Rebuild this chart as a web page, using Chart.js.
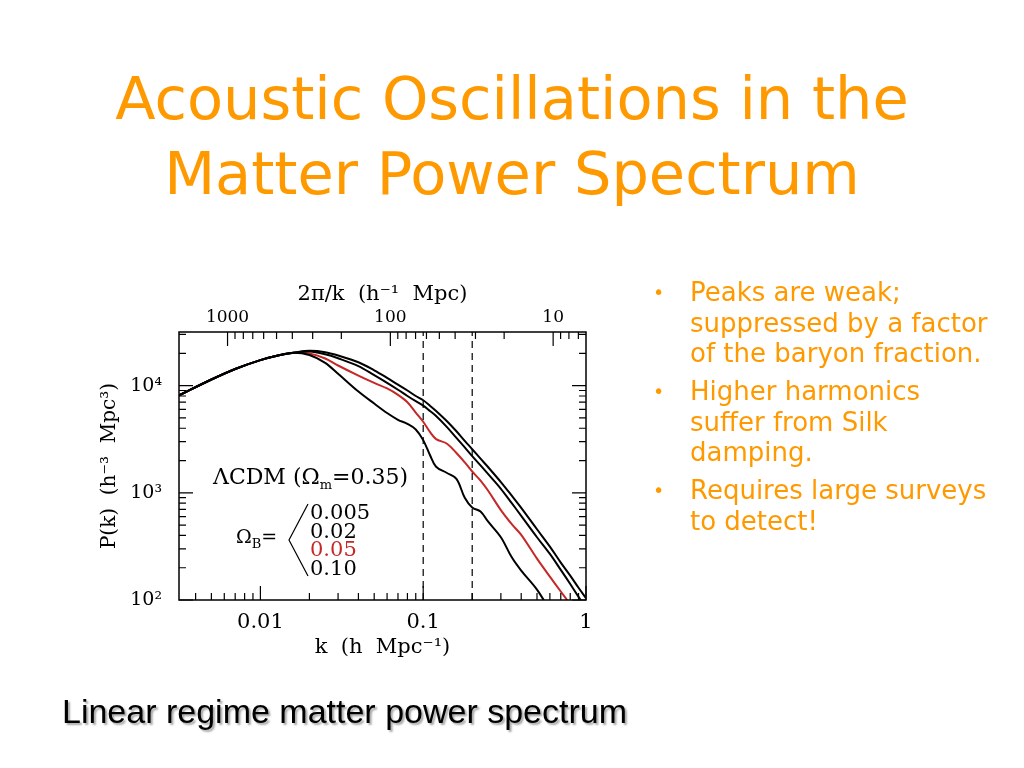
<!DOCTYPE html>
<html>
<head>
<meta charset="utf-8">
<script src="https://cdn.jsdelivr.net/npm/chart.js@4/dist/chart.umd.min.js"></script>
<style>
html, body { margin:0; padding:0; background:#fff; }
body { width:1024px; height:768px; position:relative; overflow:hidden; }
#wrap { position:absolute; left:0; top:0; width:1024px; height:768px; }
.title { position:absolute; left:0; top:61px; width:1024px; text-align:center; color:#ff9900;
         font-family:"DejaVu Sans"; font-size:59px; line-height:75px; white-space:nowrap; }
.bullets { position:absolute; left:690px; top:277px; color:#ff9900; font-family:"DejaVu Sans";
           font-size:26px; line-height:30.5px; white-space:nowrap; }
.bullets p { margin:0 0 7.5px 0; position:relative; }
.bullets p span.dot { position:absolute; left:-37px; top:0; font-size:19px; }
.caption { position:absolute; left:62px; top:692px; font-family:"Liberation Sans"; font-size:34px;
           line-height:38px; color:#000; text-shadow:2px 2px 2px rgba(0,0,0,0.35); white-space:nowrap; }
.lbl { position:absolute; font-family:"DejaVu Serif"; color:#000; white-space:nowrap; line-height:1; }
.lbl sub { font-size:13px; vertical-align:-5px; line-height:0; }
#vals div { height:18.7px; }
</style>
</head>
<body>
<div id="wrap"><canvas id="pk"></canvas></div>

<div class="title">Acoustic Oscillations in the<br>Matter Power Spectrum</div>

<div class="bullets">
  <p><span class="dot">•</span>Peaks are weak;<br>suppressed by a factor<br>of the baryon fraction.</p>
  <p><span class="dot">•</span>Higher harmonics<br>suffer from Silk<br>damping.</p>
  <p><span class="dot">•</span>Requires large surveys<br>to detect!</p>
</div>

<div class="caption">Linear regime matter power spectrum</div>

<div class="lbl" style="left:213px;top:466px;font-size:22px">ΛCDM (Ω<sub>m</sub>=0.35)</div>
<div class="lbl" style="left:236px;top:527px;font-size:19px">Ω<sub>B</sub>=</div>
<svg style="position:absolute;left:0;top:0" width="1024" height="768">
  <polyline points="308,504 289,540 308,576" fill="none" stroke="#000" stroke-width="1.2"/>
</svg>
<div class="lbl" id="vals" style="left:310px;top:502px;font-size:21px"></div>

<script>
// ===============================
// Data
// ===============================
const kValues = [0.00316, 0.005, 0.007, 0.01, 0.013, 0.016, 0.02, 0.025, 0.03, 0.04, 0.05,
                 0.06, 0.07, 0.08, 0.09, 0.1, 0.11, 0.12, 0.14, 0.16, 0.18, 0.2, 0.225, 0.25,
                 0.3, 0.35, 0.4, 0.5, 0.6, 0.7, 0.8, 0.9, 1.0];

// P(k) for Omega_B = 0.005, 0.02, 0.05, 0.10
const pB005 = [8100, 11400, 14300, 17300, 19200, 20300, 21100, 20500, 19100, 16500, 13900,
               11800, 10200, 9000, 8000, 7300, 6500, 5800, 4650, 3750, 3050, 2550, 2080, 1740,
               1260, 940, 724, 457, 315, 223, 169, 130, 104];
const pB02  = [8100, 11400, 14300, 17300, 19200, 20300, 20800, 19600, 18000, 15200, 12500,
               10600, 9150, 8000, 7150, 6500, 5800, 5200, 4100, 3250, 2650, 2200, 1800, 1500,
               1090, 800, 610, 385, 269, 191, 141, 107, 85];
const pB05  = [8100, 11400, 14300, 17300, 19200, 20300, 19900, 17900, 15400, 12400, 10600,
               9400, 8200, 7000, 5600, 4600, 3700, 3170, 2870, 2350, 1920, 1580, 1300, 1050,
               690, 510, 405, 243, 165, 120, 91, null, null];
const pB10  = [8100, 11400, 14300, 17300, 19200, 20300, 19300, 16300, 12900, 8800, 6800,
               5550, 4800, 4400, 3900, 3100, 2250, 1750, 1530, 1350, 900, 730, 670, 540,
               385, 250, 188, 125, 80, null, null, null, null];

const baryonLabels = ["0.005", "0.02", "0.05", "0.10"];
const dashedK = [0.1, 0.2];

const kMin = 0.0031623, kMax = 1;
const pMin = 100, pMax = 31623;
const kTickLabels = {0.01: "0.01", 0.1: "0.1", 1: "1"};
const scaleTickLabels = {10: "10", 100: "100", 1000: "1000"};
const pTickLabels = {100: "10²", 1000: "10³", 10000: "10⁴"};

// legend values next to the bracket
document.getElementById("vals").innerHTML = baryonLabels
    .map((t, i) => '<div style="color:' + (i === 2 ? '#c62828' : '#000') + '">' + t + '</div>')
    .join("");

// ticks 1..9 x 10^n inside a range
function decadeTicks(lo, hi) {
    const out = [];
    for (let e = Math.floor(Math.log10(lo)) - 1; e <= Math.ceil(Math.log10(hi)); e++) {
        for (let m = 1; m <= 9; m++) {
            const v = +(m * Math.pow(10, e)).toPrecision(6);
            if (v >= lo * 0.9999 && v <= hi * 1.0001) out.push({value: v, major: m === 1});
        }
    }
    return out;
}

const pts = arr => kValues.map((k, i) => ({x: k, y: arr[i]}));

const serif = "DejaVu Serif";

// inward tick marks + frame
const frameTicks = {
    id: "frameTicks",
    afterDatasetsDraw(chart) {
        const {ctx, chartArea: a, scales} = chart;
        ctx.save();
        ctx.strokeStyle = "#000";
        ctx.lineWidth = 1.2;
        ctx.beginPath();
        scales.x.ticks.forEach(t => {
            const p = scales.x.getPixelForValue(t.value), l = t.major ? 14 : 7;
            ctx.moveTo(p, a.bottom); ctx.lineTo(p, a.bottom - l);
        });
        scales.x2.ticks.forEach(t => {
            const p = scales.x2.getPixelForValue(t.value), l = t.major ? 14 : 7;
            ctx.moveTo(p, a.top); ctx.lineTo(p, a.top + l);
        });
        scales.y.ticks.forEach(t => {
            const p = scales.y.getPixelForValue(t.value), l = t.major ? 14 : 7;
            ctx.moveTo(a.left, p); ctx.lineTo(a.left + l, p);
            ctx.moveTo(a.right, p); ctx.lineTo(a.right - l, p);
        });
        ctx.stroke();
        ctx.lineWidth = 1.5;
        ctx.strokeRect(a.left, a.top, a.right - a.left, a.bottom - a.top);
        ctx.restore();
    }
};

const curve = (arr, color) => ({
    data: pts(arr),
    borderColor: color,
    borderWidth: 2,
    pointRadius: 0,
    fill: false,
    tension: 0.35,
    clip: 0
});

const dashed = dashedK.map(k => ({
    data: [{x: k, y: pMin}, {x: k, y: pMax}],
    borderColor: "#000",
    borderWidth: 1.2,
    borderDash: [7, 5],
    pointRadius: 0,
    fill: false
}));

new Chart(document.getElementById("pk").getContext("2d"), {
    type: "line",
    data: {
        datasets: [
            ...dashed,
            curve(pB005, "#000"),
            curve(pB02, "#000"),
            curve(pB10, "#000"),
            curve(pB05, "#c62828")
        ]
    },
    options: {
        responsive: true,
        maintainAspectRatio: false,
        animation: false,
        events: [],
        layout: {padding: {left: 90, top: 280, right: 438, bottom: 98}},
        plugins: {legend: {display: false}, tooltip: {enabled: false}},
        scales: {
            x: {
                type: "logarithmic", position: "bottom", min: kMin, max: kMax,
                grid: {display: false, drawTicks: false}, border: {display: false},
                afterBuildTicks: s => { s.ticks = decadeTicks(kMin, kMax); },
                afterFit: s => { s.height = 70; },
                ticks: {
                    autoSkip: false, maxRotation: 0, padding: 10, color: "#000",
                    font: {family: serif, size: 21},
                    callback: v => kTickLabels[+v.toPrecision(6)] || ""
                },
                title: {display: true, text: "k  (h  Mpc⁻¹)", color: "#000",
                        font: {family: serif, size: 21}, padding: {top: 0, bottom: 10}}
            },
            x2: {
                type: "logarithmic", position: "top", reverse: true,
                min: 2 * Math.PI / kMax, max: 2 * Math.PI / kMin,
                grid: {display: false, drawTicks: false}, border: {display: false},
                afterBuildTicks: s => { s.ticks = decadeTicks(2 * Math.PI / kMax, 2 * Math.PI / kMin); },
                afterFit: s => { s.height = 52; },
                ticks: {
                    autoSkip: false, maxRotation: 0, padding: 4, color: "#000",
                    font: {family: serif, size: 17},
                    callback: v => scaleTickLabels[+v.toPrecision(6)] || ""
                },
                title: {display: true, text: "2π/k  (h⁻¹  Mpc)", color: "#000",
                        font: {family: serif, size: 21}, padding: {top: 2, bottom: 0}}
            },
            y: {
                type: "logarithmic", position: "left", min: pMin, max: pMax,
                grid: {display: false, drawTicks: false}, border: {display: false},
                afterBuildTicks: s => { s.ticks = decadeTicks(pMin, pMax); },
                afterFit: s => { s.width = 89; },
                ticks: {
                    autoSkip: false, padding: 17, color: "#000",
                    font: {family: serif, size: 19},
                    callback: v => pTickLabels[+v.toPrecision(6)] || ""
                },
                title: {display: true, text: "P(k)  (h⁻³  Mpc³)", color: "#000",
                        font: {family: serif, size: 20}, padding: {top: 8, bottom: 0}}
            }
        }
    },
    plugins: [frameTicks]
});
</script>
</body>
</html>
